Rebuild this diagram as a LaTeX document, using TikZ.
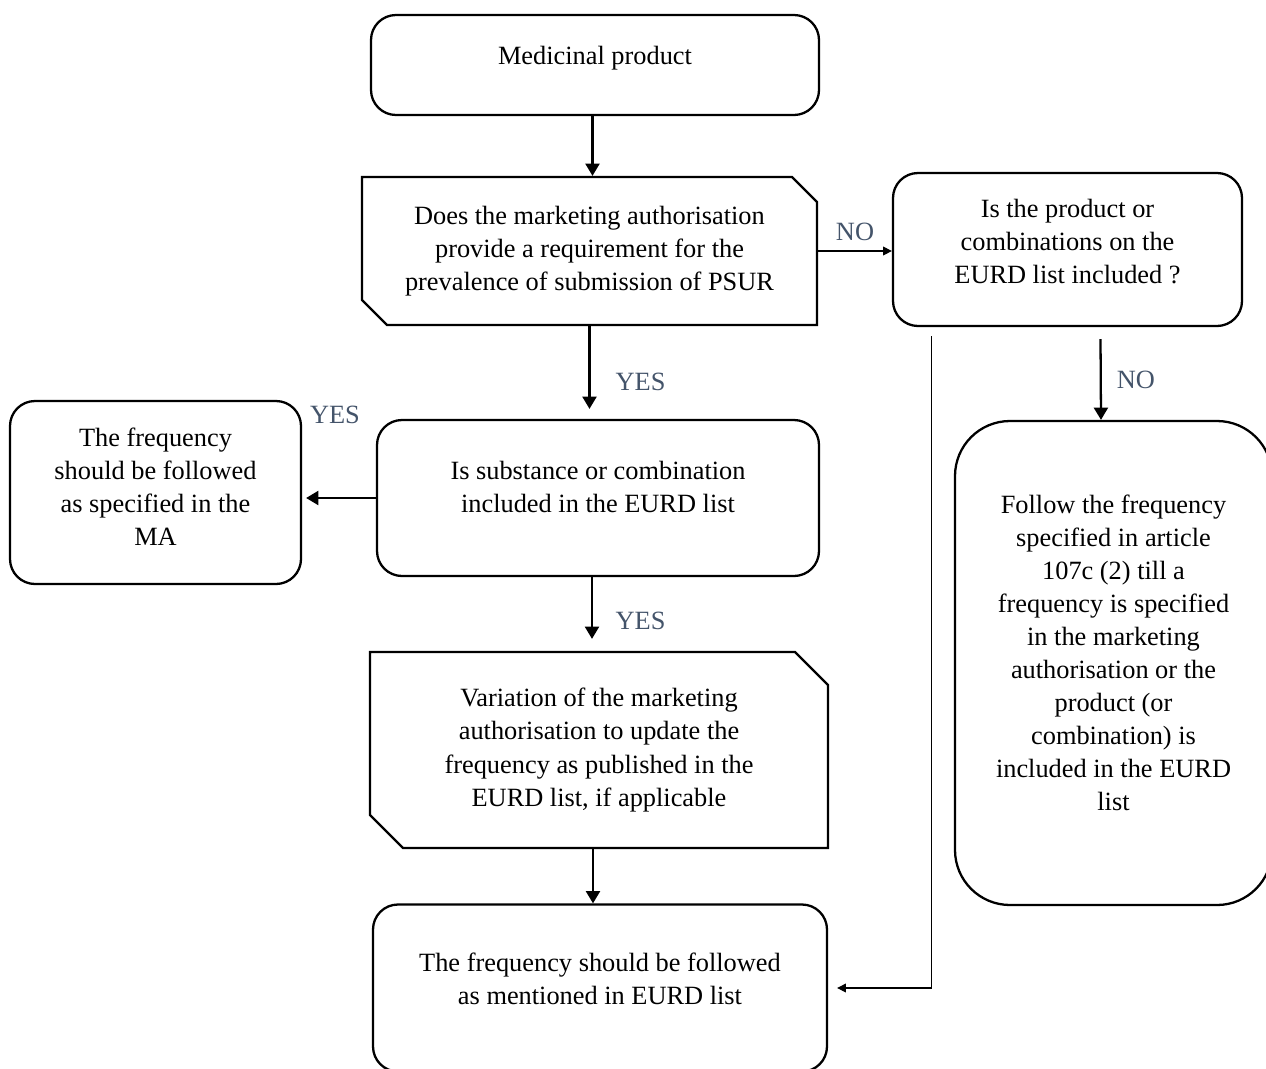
\documentclass[tikz,border=0pt]{standalone}
\usepackage{fontspec}
\setmainfont{Liberation Serif}
\usetikzlibrary{shapes.misc, arrows.meta}
\definecolor{slategrey}{HTML}{44546A}

\begin{document}
\begin{tikzpicture}[
    roundbox/.style={draw, line width=1.3pt, rounded corners=0.5cm, align=center, inner sep=0pt, font=\fontsize{15}{18.8}\selectfont},
    snipbox/.style={draw, line width=1.3pt, chamfered rectangle, chamfered rectangle corners={north east, south west}, chamfered rectangle xsep=0.25cm, chamfered rectangle ysep=0.25cm, align=center, inner sep=0pt, font=\fontsize{15}{18.8}\selectfont},
    lift/.style={text depth=#1},
    arr/.style={-{Triangle[length=7pt,width=8pt]}, line width=1.3pt},
    thinarr/.style={-{Triangle[length=5pt,width=5pt]}, line width=0.6pt},
    answer/.style={text=slategrey, font=\fontsize{15}{18.8}\selectfont, inner sep=0pt}
  ]

    \useasboundingbox (0,0) rectangle (25.32,-21.36);

    \node[roundbox, lift=0.4cm, minimum width=8.96cm, minimum height=2cm] (product) at (11.9,-1.3) {Medicinal product};
    \node[snipbox, minimum width=9.1cm, minimum height=2.96cm] (requirement) at (11.79,-5.02) {Does the marketing authorisation\\provide a requirement for the\\prevalence of submission of PSUR};
    \node[roundbox, lift=0.32cm, minimum width=6.98cm, minimum height=3.06cm] (onlist) at (21.35,-4.99) {Is the product or\\combinations on the\\EURD list included ?};
    \node[roundbox, lift=0.44cm, minimum width=8.84cm, minimum height=3.12cm] (substance) at (11.96,-9.96) {Is substance or combination\\included in the EURD list};
    \node[roundbox, lift=0.24cm, minimum width=5.82cm, minimum height=3.66cm] (followma) at (3.11,-9.85) {The frequency\\should be followed\\as specified in the\\MA};
    \node[snipbox, minimum width=9.16cm, minimum height=3.92cm, chamfered rectangle xsep=0.33cm, chamfered rectangle ysep=0.33cm] (variation) at (11.98,-15) {Variation of the marketing\\authorisation to update the\\frequency as published in the\\EURD list, if applicable};
    \node[roundbox, lift=0.4cm, minimum width=6.34cm, minimum height=9.68cm, rounded corners=1.1cm] (article) at (22.27,-13.26) {Follow the frequency\\specified in article\\107c (2) till a\\frequency is specified\\in the marketing\\authorisation or the\\product (or\\combination) is\\included in the EURD\\list};
    \node[roundbox, lift=0.36cm, minimum width=9.08cm, minimum height=3.34cm] (followeurd) at (12,-19.76) {The frequency should be followed\\as mentioned in EURD list};

    \draw[arr] ([xshift=-0.05cm]product.south) -- ([xshift=-0.05cm]product.south |- requirement.north);
    \draw[thinarr] (requirement.east) -- (requirement.east -| onlist.west) node[answer, midway, above=0.2cm] (no1) {NO};
    \draw[arr, shorten >=0.2cm] (requirement.south) -- (requirement.south |- substance.north) node[answer, pos=0.6, right=0.5cm] (yes1) {YES};
    \draw[arr] ([xshift=0.66cm,yshift=-0.24cm]onlist.south) -- ([xshift=-0.25cm]article.north) node[answer, pos=0.5, right=0.3cm] (no2) {NO};
    \draw[arr, shorten >=0.08cm] (substance.west) -- (substance.west -| followma.east);
    \node[answer] (yes2) at (6.7,-8.3) {YES};
    \draw[arr, shorten >=0.24cm] ([xshift=-0.12cm]substance.south) -- ([xshift=-0.12cm]substance.south |- variation.north) node[answer, pos=0.6, right=0.45cm] (yes3) {YES};
    \draw[arr] ([xshift=-0.12cm]variation.south) -- ([xshift=-0.12cm]variation.south |- followeurd.north);
    \draw[thinarr, shorten >=0.18cm] ([shift={(0.8,-0.18)}]onlist.south west) |- (followeurd.east);

  \end{tikzpicture}
\end{document}
